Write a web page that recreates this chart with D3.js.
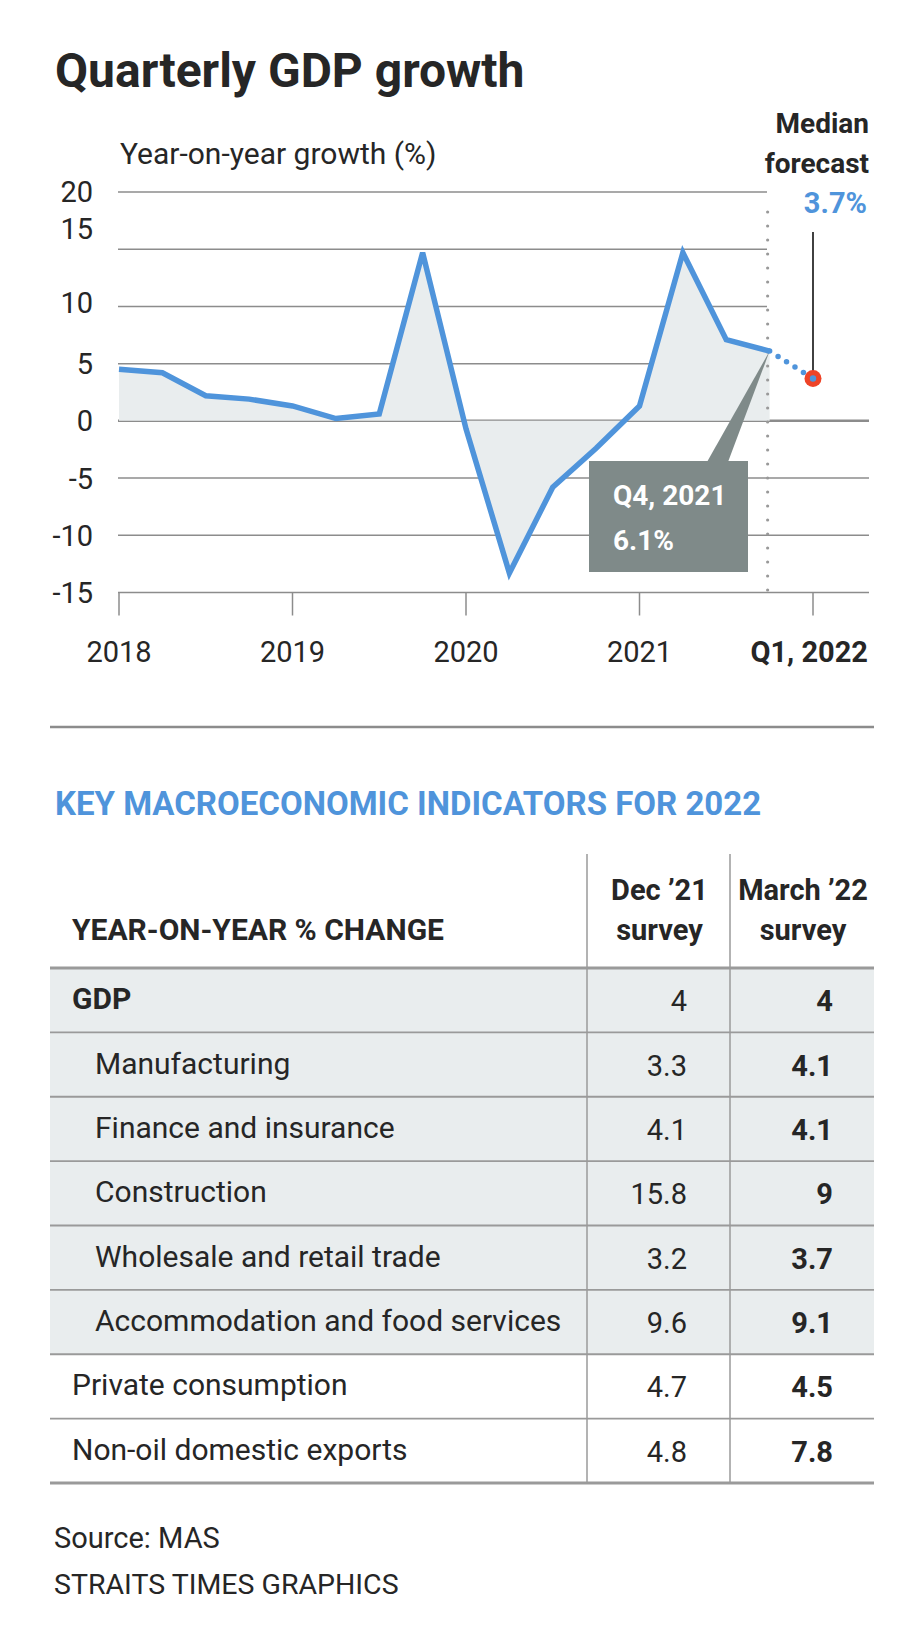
<!DOCTYPE html>
<html>
<head>
<meta charset="utf-8">
<script src="https://cdn.jsdelivr.net/npm/d3@7"></script>
<style>
  html, body { margin: 0; padding: 0; background: #fff; }
  svg { display: block; font-family: Roboto, "Noto Sans", sans-serif; }
</style>
</head>
<body>
<svg id="chart" width="920" height="1650"></svg>
<script>
// ---------- DATA ----------
const quarters = ["Q1 2018","Q2 2018","Q3 2018","Q4 2018","Q1 2019","Q2 2019","Q3 2019","Q4 2019",
                  "Q1 2020","Q2 2020","Q3 2020","Q4 2020","Q1 2021","Q2 2021","Q3 2021","Q4 2021"];
const growth = [4.5, 4.2, 2.2, 1.9, 1.3, 0.2, 0.6, 14.7, -0.7, -13.3, -5.8, -2.4, 1.3, 14.7, 7.1, 6.1];
const forecastLabel = "Q1 2022";
const forecastValue = 3.7;
const yTicks = [-15, -10, -5, 0, 5, 10, 15, 20];
const xTickIndex = [0, 4, 8, 12, 16];
const xTickLabels = ["2018", "2019", "2020", "2021", "Q1, 2022"];

const indicators = ["GDP", "Manufacturing", "Finance and insurance", "Construction",
                    "Wholesale and retail trade", "Accommodation and food services",
                    "Private consumption", "Non-oil domestic exports"];
const isSubsector = [false, true, true, true, true, true, false, false];
const isGdpGroup = [true, true, true, true, true, true, false, false];
const dec21Survey = [4, 3.3, 4.1, 15.8, 3.2, 9.6, 4.7, 4.8];
const mar22Survey = [4, 4.1, 4.1, 9, 3.7, 9.1, 4.5, 7.8];

// ---------- STYLE ----------
const BLUE = "#4f94db", DARK = "#262626", GRID = "#8c8c8c", FILL = "#e9edee", BOX = "#7f8a89", RED = "#ee4327";

const svg = d3.select("#chart");

// Title
svg.append("text").attr("x", 55).attr("y", 87)
  .attr("font-size", 48).attr("font-weight", 700).attr("fill", DARK)
  .text("Quarterly GDP growth");
svg.append("text").attr("x", 120).attr("y", 164)
  .attr("font-size", 30).attr("fill", DARK)
  .text("Year-on-year growth (%)");

// Scales
const series = quarters.map((q, i) => ({i, v: growth[i]}));
const allX = quarters.concat([forecastLabel]);
const x = d3.scaleLinear().domain([0, allX.length - 1]).range([119, 813]);
const y = d3.scaleLinear().domain([-15, 20]).range([592.5, 192]);

// Grid lines
const g = svg.append("g");
g.selectAll("line.grid").data(yTicks).join("line")
  .attr("x1", 118)
  .attr("x2", d => d > 0 ? 767 : 869)
  .attr("y1", d => y(d)).attr("y2", d => y(d))
  .attr("stroke", GRID)
  .attr("stroke-width", d => d === 0 ? 2.5 : 1.5);

// Y labels
const labelNudge = {15: -21, 10: -4};
g.selectAll("text.ylab").data(yTicks).join("text")
  .attr("x", 93).attr("y", d => y(d) + (labelNudge[d] || 0))
  .attr("dy", "0.36em")
  .attr("text-anchor", "end")
  .attr("font-size", 29).attr("fill", DARK)
  .text(d => d);

// X ticks
const xTicks = xTickIndex.map((idx, k) => ({idx, label: xTickLabels[k]}));
g.selectAll("line.xtick").data(xTicks).join("line")
  .attr("x1", d => x(d.idx)).attr("x2", d => x(d.idx))
  .attr("y1", y(-15)).attr("y2", y(-15) + 23)
  .attr("stroke", GRID).attr("stroke-width", 1.5);
g.selectAll("text.xlab").data(xTicks).join("text")
  .attr("x", d => d.idx === allX.length - 1 ? 868 : x(d.idx))
  .attr("y", 662)
  .attr("text-anchor", d => d.idx === allX.length - 1 ? "end" : "middle")
  .attr("font-size", 29)
  .attr("font-weight", d => d.idx === allX.length - 1 ? 700 : 400)
  .attr("fill", DARK)
  .text(d => d.label);

// Area fill
const area = d3.area().x(d => x(d.i)).y0(y(0)).y1(d => y(d.v));
g.append("path").datum(series).attr("d", area).attr("fill", FILL);

// Dotted vertical line at latest quarter
const lastI = quarters.length - 1;
g.append("line")
  .attr("x1", x(lastI) - 2).attr("x2", x(lastI) - 2)
  .attr("y1", 212).attr("y2", y(-15))
  .attr("stroke", "#999").attr("stroke-width", 3.2)
  .attr("stroke-dasharray", "0 14").attr("stroke-linecap", "round");

// Annotation box
const boxX = 589, boxY = 461, boxW = 159, boxH = 111;
g.append("path")
  .attr("d", `M${707},${boxY + 1} L${728},${boxY + 1} L${x(lastI)},${y(growth[lastI])} Z`)
  .attr("fill", BOX);
g.append("rect").attr("x", boxX).attr("y", boxY).attr("width", boxW).attr("height", boxH)
  .attr("fill", BOX);
g.append("text").attr("x", 613).attr("y", 505)
  .attr("font-size", 28).attr("font-weight", 700).attr("fill", "#fff")
  .text(quarters[lastI].replace(" ", ", "));
g.append("text").attr("x", 613).attr("y", 550)
  .attr("font-size", 28).attr("font-weight", 700).attr("fill", "#fff")
  .text(growth[lastI] + "%");

// Main line
const line = d3.line().x(d => x(d.i)).y(d => y(d.v)).curve(d3.curveLinear);
g.append("path").datum(series).attr("d", line)
  .attr("fill", "none").attr("stroke", BLUE).attr("stroke-width", 5.5)
  .attr("stroke-linejoin", "miter");

// Forecast dotted connector
const fc = [{i: lastI, v: growth[lastI]}, {i: allX.length - 1, v: forecastValue}];
g.append("path").datum(fc).attr("d", line)
  .attr("fill", "none").attr("stroke", BLUE).attr("stroke-width", 5.5)
  .attr("stroke-dasharray", "0 10").attr("stroke-linecap", "round");

// Leader line and forecast marker
const fx = x(allX.length - 1), fy = y(forecastValue);
g.append("line").attr("x1", fx).attr("x2", fx).attr("y1", 232).attr("y2", fy - 6)
  .attr("stroke", "#111").attr("stroke-width", 1.6);
g.append("circle").attr("cx", fx).attr("cy", fy).attr("r", 8.5).attr("fill", RED);
g.append("circle").attr("cx", fx).attr("cy", fy).attr("r", 3.2).attr("fill", BLUE);

// Median forecast labels
g.append("text").attr("x", 869).attr("y", 133).attr("text-anchor", "end")
  .attr("font-size", 28).attr("font-weight", 700).attr("fill", DARK).text("Median");
g.append("text").attr("x", 869).attr("y", 173).attr("text-anchor", "end")
  .attr("font-size", 28).attr("font-weight", 700).attr("fill", DARK).text("forecast");
g.append("text").attr("x", 867).attr("y", 213).attr("text-anchor", "end")
  .attr("font-size", 29).attr("font-weight", 700).attr("fill", BLUE).text(forecastValue + "%");

// Separator
svg.append("line").attr("x1", 50).attr("x2", 874).attr("y1", 727).attr("y2", 727)
  .attr("stroke", GRID).attr("stroke-width", 2.5);

// Table heading
svg.append("text").attr("x", 55).attr("y", 815)
  .attr("font-size", 33).attr("font-weight", 700).attr("fill", BLUE)
  .text("KEY MACROECONOMIC INDICATORS FOR 2022");

// ---------- TABLE ----------
const tLeft = 50, tRight = 874, col1 = 587, col2 = 730;
const rowY = d3.scaleBand().domain(indicators).range([968, 1483]);
const t = svg.append("g");

t.selectAll("rect.row").data(indicators).join("rect")
  .attr("x", tLeft).attr("width", tRight - tLeft)
  .attr("y", d => rowY(d)).attr("height", rowY.bandwidth())
  .attr("fill", (d, i) => isGdpGroup[i] ? FILL : "#fff");

// Row separators
t.selectAll("line.rowsep").data(indicators.slice(1)).join("line")
  .attr("x1", tLeft).attr("x2", tRight)
  .attr("y1", d => rowY(d)).attr("y2", d => rowY(d))
  .attr("stroke", "#9a9a9a").attr("stroke-width", 1.8);

// Column lines
[col1, col2].forEach(cx => {
  t.append("line").attr("x1", cx).attr("x2", cx).attr("y1", 854).attr("y2", 1483)
    .attr("stroke", "#9a9a9a").attr("stroke-width", 1.5);
});

// Header rule and bottom rule
[968, 1483].forEach(yy => {
  t.append("line").attr("x1", tLeft).attr("x2", tRight).attr("y1", yy).attr("y2", yy)
    .attr("stroke", "#9a9a9a").attr("stroke-width", 3.2);
});

// Header text
t.append("text").attr("x", 72).attr("y", 940)
  .attr("font-size", 30).attr("font-weight", 700).attr("fill", DARK)
  .text("YEAR-ON-YEAR % CHANGE");
const headers = [["Dec \u201921", "survey"], ["March \u201922", "survey"]];
[(col1 + col2) / 2 + 1, (col2 + tRight) / 2 + 1].forEach((cx, k) => {
  headers[k].forEach((txt, j) => {
    t.append("text").attr("x", cx).attr("y", 900 + j * 40)
      .attr("text-anchor", "middle")
      .attr("font-size", 29).attr("font-weight", 700).attr("fill", DARK)
      .text(txt);
  });
});

// Row labels and values
const mid = d => rowY(d) + rowY.bandwidth() / 2;
t.selectAll("text.lab").data(indicators).join("text")
  .attr("x", (d, i) => isSubsector[i] ? 95 : 72)
  .attr("y", d => mid(d) + 9)
  .attr("font-size", 30)
  .attr("font-weight", (d, i) => i === 0 ? 700 : 400)
  .attr("fill", DARK)
  .text(d => d);
t.selectAll("text.dec").data(indicators).join("text")
  .attr("x", 687).attr("y", d => mid(d) + 11)
  .attr("text-anchor", "end").attr("font-size", 29).attr("fill", DARK)
  .text((d, i) => dec21Survey[i]);
t.selectAll("text.mar").data(indicators).join("text")
  .attr("x", 833).attr("y", d => mid(d) + 11)
  .attr("text-anchor", "end").attr("font-size", 29).attr("font-weight", 700).attr("fill", DARK)
  .text((d, i) => mar22Survey[i]);

// Source
svg.append("text").attr("x", 54).attr("y", 1548)
  .attr("font-size", 29).attr("fill", DARK).text("Source: MAS");
svg.append("text").attr("x", 54).attr("y", 1594)
  .attr("font-size", 28.5).attr("fill", DARK).text("STRAITS TIMES GRAPHICS");
</script>
</body>
</html>
